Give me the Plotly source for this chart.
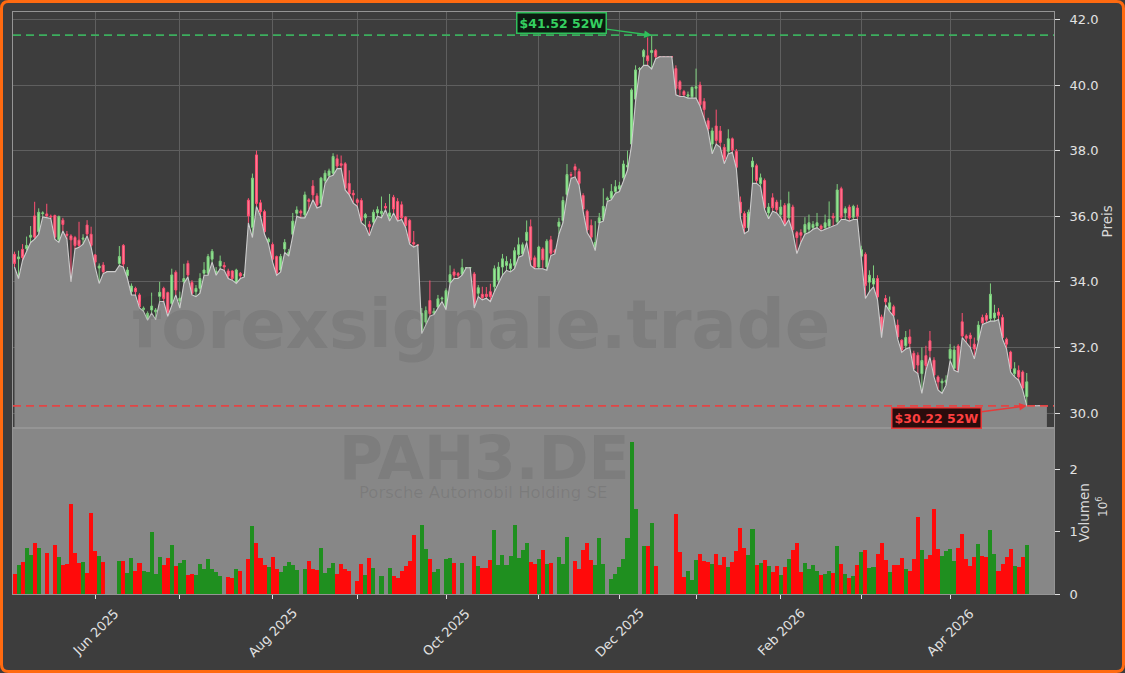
import pandas as pd
import plotly.graph_objects as go

# ---------------- data ----------------
ticker = "PAH3.DE"
company = "Porsche Automobil Holding SE"
watermark = "forexsignale.trade"
first_day = "2025-05-05"
last_trading_day = "2026-04-30"
xetra_holidays = ["2025-05-01", "2025-12-24", "2025-12-25", "2025-12-26", "2025-12-31",
                  "2026-01-01", "2026-04-03", "2026-04-06", "2026-05-01"]

opens = [
    34.84, 34.70, 34.99, 35.01, 35.36, 36.01, 35.53, 36.08, 36.07, 36.00,
    36.02, 35.28, 35.88, 35.45, 35.40, 35.35, 35.27, 35.30, 35.73, 35.45,
    34.82, 34.42, 34.51, 34.31, 34.31, 34.31, 34.56, 35.11, 34.19, 33.70,
    33.80, 33.60, 33.15, 32.85, 33.14, 33.08, 33.55, 33.80, 33.67, 33.34,
    34.29, 33.42, 34.00, 34.56, 33.98, 33.70, 33.80, 34.26, 34.26, 34.69,
    34.25, 34.48, 34.50, 34.33, 34.33, 33.97, 34.26, 34.20, 36.49, 35.66,
    37.87, 36.41, 36.14, 35.22, 35.14, 34.77, 34.36, 35.00, 34.82, 35.45,
    36.09, 36.15, 36.04, 36.50, 36.92, 36.62, 36.39, 37.08, 37.23, 37.31,
    37.75, 37.60, 37.60, 37.00, 36.70, 36.50, 36.48, 35.95, 35.75, 35.82,
    36.10, 36.08, 36.30, 35.98, 36.58, 36.45, 36.35, 35.97, 35.87, 35.20,
    35.12, 32.52, 32.77, 33.43, 33.04, 33.23, 33.48, 33.20, 33.99, 34.30,
    34.25, 34.23, 34.43, 34.43, 34.24, 33.65, 33.62, 33.62, 33.70, 33.85,
    34.05, 34.45, 34.50, 34.40, 34.50, 34.83, 34.85, 35.26, 35.68, 34.73,
    34.45, 35.00, 34.45, 35.28, 34.95, 35.69, 35.87, 36.66, 37.27, 37.51,
    37.36, 36.63, 36.15, 35.72, 35.00, 35.80, 35.90, 36.50, 36.55, 36.75,
    36.83, 37.17, 37.50, 38.20, 39.57, 40.48, 40.86, 40.89, 40.99, 41.05,
    40.86, 40.86, 40.86, 40.86, 40.50, 40.10, 39.80, 39.66, 39.64, 39.90,
    40.00, 39.50, 38.91, 38.20, 38.75, 38.60, 38.10, 37.98, 38.36, 37.98,
    36.43, 36.08, 35.65, 37.50, 37.54, 36.99, 37.09, 36.10, 36.56, 36.43,
    36.05, 36.33, 35.95, 36.28, 35.50, 35.50, 35.50, 35.60, 35.65, 35.70,
    35.70, 35.65, 35.70, 36.00, 35.83, 36.84, 36.10, 36.28, 35.97, 36.25,
    34.78, 34.84, 33.99, 33.93, 34.10, 32.93, 33.49, 33.15, 33.24, 32.68,
    32.22, 32.05, 32.32, 31.82, 31.76, 31.20, 31.75, 32.20, 31.61, 31.10,
    30.92, 30.94, 31.66, 31.36, 32.04, 32.78, 32.35, 32.37, 32.10, 32.22,
    32.91, 32.98, 32.88, 32.90, 33.08, 32.91, 32.25, 31.86, 31.20, 31.30,
    31.25, 30.50, 30.22, 30.22, 30.22, 30.22, 30.22,
]
highs = [
    34.92, 34.95, 35.15, 35.38, 35.70, 36.44, 36.24, 36.15, 36.38, 36.05,
    36.05, 36.02, 35.95, 35.55, 35.45, 35.40, 35.83, 35.45, 35.88, 35.68,
    34.85, 34.56, 34.60, 34.31, 34.31, 34.31, 35.09, 35.15, 34.45, 33.95,
    33.85, 33.65, 33.25, 33.10, 33.67, 33.20, 34.00, 33.85, 33.70, 34.40,
    34.35, 33.70, 34.55, 34.65, 34.05, 33.90, 34.26, 34.60, 34.85, 35.00,
    34.45, 34.80, 34.60, 34.40, 34.35, 34.40, 34.30, 34.28, 36.55, 37.30,
    38.00, 36.50, 36.20, 35.35, 35.20, 34.80, 34.85, 35.30, 35.00, 36.10,
    36.30, 36.20, 36.75, 36.55, 37.10, 36.70, 37.20, 37.40, 37.45, 37.92,
    37.88, 37.85, 37.65, 37.40, 36.80, 36.55, 36.55, 36.10, 35.85, 36.20,
    36.30, 36.60, 36.40, 36.68, 36.65, 36.55, 36.45, 36.00, 35.92, 35.55,
    35.12, 33.20, 33.25, 34.04, 33.20, 33.60, 33.55, 33.80, 34.50, 34.40,
    34.30, 34.70, 34.43, 34.43, 34.30, 33.90, 33.85, 33.84, 33.94, 34.50,
    34.60, 34.85, 34.78, 34.70, 35.05, 35.35, 35.20, 35.87, 35.90, 34.80,
    35.10, 35.05, 35.30, 35.40, 35.00, 35.95, 36.60, 37.59, 37.35, 37.60,
    37.45, 36.70, 36.20, 35.90, 35.85, 36.10, 36.85, 36.60, 36.98, 37.10,
    37.05, 37.70, 38.00, 39.90, 40.60, 40.55, 41.10, 41.45, 41.52, 41.10,
    40.86, 40.86, 40.86, 40.86, 40.60, 40.15, 39.85, 39.80, 39.95, 40.50,
    40.10, 39.60, 39.00, 38.70, 39.25, 38.75, 38.20, 38.65, 38.40, 38.05,
    36.60, 36.15, 36.20, 37.80, 37.60, 37.30, 37.15, 36.40, 36.70, 36.50,
    36.50, 36.40, 36.75, 36.35, 35.55, 35.60, 35.97, 36.05, 35.85, 36.10,
    35.75, 36.05, 36.45, 36.10, 36.98, 36.90, 36.30, 36.35, 36.35, 36.35,
    35.10, 34.90, 34.35, 34.50, 34.20, 33.00, 33.60, 33.55, 33.30, 32.85,
    32.25, 32.50, 32.55, 31.90, 31.85, 32.00, 32.05, 32.50, 31.70, 31.15,
    31.05, 31.15, 32.10, 32.05, 32.10, 33.05, 32.40, 32.45, 32.30, 32.80,
    33.00, 33.05, 33.95, 33.30, 33.20, 33.00, 32.30, 31.90, 31.55, 31.45,
    31.30, 31.22, 30.22, 30.22, 30.22, 30.22, 30.22,
]
lows = [
    34.45, 34.10, 34.65, 34.95, 35.20, 35.30, 35.45, 35.98, 35.95, 35.93,
    35.30, 35.20, 35.55, 35.30, 34.00, 35.00, 35.05, 35.15, 35.40, 35.05,
    34.45, 33.95, 34.25, 34.31, 34.31, 34.31, 34.50, 34.45, 34.10, 33.60,
    33.60, 33.20, 33.10, 32.83, 33.05, 32.85, 33.40, 33.40, 32.95, 33.30,
    33.60, 33.20, 33.95, 34.15, 33.60, 33.55, 33.65, 34.20, 34.20, 34.60,
    34.20, 34.40, 34.35, 34.10, 34.05, 33.95, 34.10, 34.15, 35.80, 35.35,
    36.30, 36.00, 35.45, 35.15, 34.60, 34.20, 34.30, 34.90, 34.78, 35.40,
    36.00, 35.95, 35.95, 36.20, 36.50, 36.25, 36.30, 37.00, 37.20, 37.25,
    37.45, 37.45, 36.80, 36.65, 36.40, 36.30, 35.80, 35.70, 35.40, 35.75,
    36.00, 35.95, 36.20, 35.85, 36.10, 35.85, 35.90, 35.65, 35.15, 35.06,
    35.12, 32.42, 32.70, 32.95, 33.00, 33.20, 33.40, 33.15, 33.95, 34.10,
    34.10, 34.20, 34.43, 34.43, 33.20, 33.55, 33.45, 33.50, 33.40, 33.70,
    33.95, 34.20, 34.35, 34.30, 34.40, 34.75, 34.80, 35.20, 34.50, 34.40,
    34.40, 34.40, 34.35, 34.80, 34.85, 35.45, 35.80, 36.60, 37.15, 37.20,
    36.95, 36.15, 35.50, 35.30, 34.95, 35.80, 35.85, 36.45, 36.50, 36.70,
    36.75, 37.10, 37.40, 38.15, 39.50, 40.45, 40.60, 40.60, 40.49, 40.80,
    40.86, 40.86, 40.86, 40.86, 39.70, 39.65, 39.65, 39.60, 39.60, 39.60,
    39.35, 38.95, 38.60, 37.90, 38.20, 38.10, 37.60, 37.90, 37.95, 37.45,
    35.95, 35.47, 35.55, 37.00, 37.00, 36.90, 36.20, 35.92, 36.15, 36.10,
    35.95, 35.70, 35.90, 35.50, 34.86, 35.20, 35.45, 35.50, 35.60, 35.65,
    35.55, 35.60, 35.65, 35.70, 35.75, 35.90, 35.90, 35.85, 35.90, 35.90,
    34.70, 33.49, 33.70, 33.85, 33.45, 32.30, 33.30, 33.10, 32.95, 32.25,
    31.85, 31.95, 32.00, 31.30, 31.20, 30.60, 31.30, 31.70, 31.10, 30.70,
    30.60, 30.85, 31.60, 31.30, 31.25, 32.30, 32.15, 32.00, 31.65, 32.15,
    32.70, 32.75, 32.80, 32.80, 32.85, 32.25, 31.95, 31.25, 31.10, 31.00,
    30.70, 30.22, 30.22, 30.22, 30.22, 30.22, 30.22,
]
closes = [
    34.56, 34.76, 34.74, 35.11, 35.42, 35.36, 36.12, 36.10, 36.01, 35.98,
    35.36, 35.99, 35.75, 35.42, 35.28, 35.11, 35.11, 35.33, 35.46, 35.11,
    34.60, 34.48, 34.31, 34.31, 34.31, 34.31, 34.77, 34.54, 34.36, 33.87,
    33.70, 33.24, 33.20, 33.04, 33.26, 33.14, 33.68, 33.49, 33.07, 34.21,
    33.75, 33.50, 34.10, 34.21, 33.65, 33.80, 34.10, 34.36, 34.77, 34.93,
    34.32, 34.63, 34.45, 34.18, 34.10, 34.36, 34.18, 34.22, 36.01, 37.16,
    36.39, 36.14, 35.53, 35.30, 34.69, 34.26, 34.77, 35.20, 34.90, 35.85,
    36.19, 36.10, 36.65, 36.45, 36.65, 36.34, 37.16, 37.31, 37.38, 37.82,
    37.53, 37.55, 36.85, 36.68, 36.65, 36.42, 35.87, 36.05, 35.68, 36.12,
    36.20, 36.15, 36.25, 36.10, 36.22, 35.90, 35.95, 35.72, 35.20, 35.15,
    35.12, 33.04, 33.12, 33.03, 33.10, 33.48, 33.50, 33.73, 34.22, 34.20,
    34.20, 34.43, 34.43, 34.43, 33.23, 33.82, 33.52, 33.55, 33.55, 34.40,
    34.45, 34.70, 34.62, 34.55, 34.95, 35.13, 35.13, 35.51, 34.67, 34.45,
    35.06, 34.67, 35.24, 34.87, 34.90, 35.82, 36.48, 37.27, 37.25, 37.41,
    37.00, 36.22, 35.58, 35.36, 35.20, 35.95, 36.30, 36.55, 36.75, 36.90,
    36.93, 37.59, 37.55, 39.85, 40.46, 40.50, 41.05, 40.74, 41.05, 40.86,
    40.86, 40.86, 40.86, 40.86, 39.90, 39.87, 39.70, 39.70, 39.93, 39.95,
    39.40, 39.25, 38.66, 38.60, 38.31, 38.25, 37.75, 38.36, 38.02, 37.49,
    36.10, 35.65, 36.12, 37.68, 37.09, 37.17, 36.26, 36.28, 36.26, 36.20,
    36.28, 35.77, 36.38, 35.59, 35.35, 35.42, 35.75, 35.80, 35.75, 35.80,
    35.62, 35.80, 35.90, 35.95, 36.80, 35.97, 36.23, 35.95, 36.30, 36.00,
    34.98, 33.89, 34.20, 34.10, 33.54, 32.37, 33.39, 33.36, 32.98, 32.32,
    31.92, 32.30, 32.12, 31.36, 31.46, 31.60, 31.45, 31.90, 31.16, 30.95,
    30.97, 31.00, 31.94, 31.92, 31.31, 32.35, 32.28, 32.27, 31.95, 32.68,
    32.75, 32.83, 33.62, 33.05, 32.98, 32.30, 32.10, 31.36, 31.35, 31.10,
    30.76, 30.95, 30.22, 30.22, 30.22, 30.22, 30.22,
]
volumes_mio = [
    0.32, 0.47, 0.51, 0.74, 0.63, 0.82, 0.74, 0, 0.66, 0,
    0.79, 0.59, 0.47, 0.48, 1.44, 0.66, 0.50, 0.51, 0.34, 1.30,
    0.69, 0.61, 0.51, 0, 0, 0, 0.53, 0.53, 0.34, 0.58,
    0.37, 0.50, 0.37, 0.36, 0.99, 0.32, 0.59, 0.47, 0.58, 0.79,
    0.45, 0.50, 0.55, 0.30, 0.32, 0.30, 0.48, 0.40, 0.56, 0.40,
    0.35, 0.29, 0, 0.27, 0.26, 0.40, 0.37, 0, 0.56, 1.09,
    0.82, 0.58, 0.47, 0.43, 0.59, 0.40, 0.35, 0.45, 0.51, 0.47,
    0.39, 0, 0.40, 0.53, 0.40, 0.39, 0.74, 0.34, 0.42, 0.50,
    0.32, 0.48, 0.40, 0.37, 0, 0.21, 0.48, 0.30, 0.58, 0.42,
    0, 0.29, 0, 0.42, 0.29, 0.26, 0.37, 0.45, 0.53, 0.95,
    0, 1.11, 0.72, 0.56, 0.35, 0.40, 0, 0.56, 0.58, 0.50,
    0, 0.50, 0, 0, 0.61, 0.45, 0.42, 0.42, 0.55, 1.03,
    0.47, 0.63, 0.47, 0.61, 1.11, 0.58, 0.71, 0.82, 0.51, 0.48,
    0.56, 0.71, 0.48, 0.50, 0, 0.59, 0.48, 0.92, 0, 0.53,
    0.40, 0.71, 0.82, 0.55, 0.47, 0.90, 0.48, 0, 0.24, 0.32,
    0.43, 0.56, 0.90, 2.43, 1.36, 0, 0.77, 0.77, 1.14, 0.45,
    0, 0, 0, 0, 1.28, 0.67, 0.27, 0.37, 0.22, 0.55,
    0.64, 0.53, 0.51, 0.48, 0.64, 0.47, 0.59, 0.43, 0.51, 0.69,
    1.06, 0.74, 0.63, 1.04, 0.47, 0.50, 0.55, 0.45, 0.35, 0.45,
    0.30, 0.44, 0.56, 0.71, 0.82, 0.35, 0.50, 0.40, 0.47, 0.37,
    0.30, 0.32, 0.37, 0.34, 0.77, 0.48, 0.32, 0.26, 0.29, 0.47,
    0.67, 0.71, 0.42, 0.43, 0.64, 0.82, 0.55, 0.35, 0.47, 0.47,
    0.58, 0.40, 0.37, 0.56, 1.23, 0.70, 0.56, 0.62, 1.36, 0.72,
    0.61, 0.69, 0.72, 0.53, 0.74, 0.96, 0.56, 0.45, 0.59, 0.80,
    0.61, 0.59, 1.03, 0.64, 0.37, 0.48, 0.59, 0.72, 0.45, 0.43,
    0.59, 0.78, 0, 0, 0, 0, 0,
]

# ---------------- derived helpers ----------------
n = len(closes)
idx = list(range(n))
cbd = pd.offsets.CustomBusinessDay(holidays=pd.to_datetime(xetra_holidays))
dates = pd.date_range(first_day, periods=n, freq=cbd)
last_day = pd.Timestamp(last_trading_day)
tick_idx = [i for i in range(1, n) if dates[i].month != dates[i - 1].month and dates[i] <= last_day]
label_idx = [i for i in tick_idx if dates[i].month % 2 == 0]
label_txt = [dates[i].strftime("%b %Y") for i in label_idx]

hi_i = max(range(n), key=lambda i: highs[i])
lo_i = min(range(n), key=lambda i: lows[i])
hi_v, lo_v = highs[hi_i], lows[lo_i]

vol_colors = ["#1f8f1f" if c >= o else "#ff0a0a" for o, c in zip(opens, closes)]

# ---------------- styling constants ----------------
W, H = 1125, 673
ML, MR, MT, MB = 13, 71, 12, 79
PW, PH = W - ML - MR, H - MT - MB
split = 166 / PH  # volume panel share
BG = "#3d3d3d"
FILL = "#878787"
GRID = "#5f5f5f"
SPINE = "#959595"
TXT = "#e2e2e2"
FONT = "DejaVu Sans"


def px_x(p):
    return (p - ML) / PW


def px_y(p):
    return (H - MB - p) / PH


fig = go.Figure()

# low-line area fill
fig.add_trace(go.Scatter(
    x=idx, y=lows, mode="lines", line=dict(color="#cdcdcd", width=1.1),
    fill="tozeroy", fillcolor=FILL, xaxis="x", yaxis="y", hoverinfo="skip"))

# candles
fig.add_trace(go.Candlestick(
    x=idx, open=opens, high=highs, low=lows, close=closes, xaxis="x", yaxis="y",
    increasing=dict(line=dict(color="#7fcf7f", width=1), fillcolor="#98ee98"),
    decreasing=dict(line=dict(color="#ff4f72", width=1), fillcolor="#ff7d96"),
    whiskerwidth=0, hoverinfo="skip"))

# volume bars
fig.add_trace(go.Bar(
    x=idx, y=volumes_mio, marker=dict(color=vol_colors, line=dict(width=0)),
    width=1.0, xaxis="x2", yaxis="y2", hoverinfo="skip"))

xr = [-0.37, 257.76]
fig.update_layout(
    width=W, height=H, template="none",
    paper_bgcolor=BG, plot_bgcolor=BG,
    margin=dict(l=ML, r=MR, t=MT, b=MB, autoexpand=False),
    showlegend=False, hovermode=False, bargap=0,
    font=dict(family=FONT, color=TXT, size=13),
    xaxis=dict(domain=[0, 1], anchor="y", range=xr, rangeslider=dict(visible=False),
               tickvals=tick_idx, showticklabels=False, ticks="",
               showgrid=True, gridcolor=GRID, gridwidth=1, zeroline=False,
               showline=True, linecolor=SPINE, linewidth=1, mirror=True, automargin=False),
    xaxis2=dict(domain=[0, 1], anchor="y2", range=xr, matches="x",
                tickvals=tick_idx, showticklabels=False,
                ticks="outside", ticklen=4, tickcolor="#e0e0e0", tickwidth=1,
                showgrid=False, zeroline=False,
                showline=True, linecolor=SPINE, linewidth=1, mirror=True, automargin=False),
    yaxis=dict(domain=[split, 1], anchor="x", side="right", range=[29.543, 42.226],
               tickvals=[30, 32, 34, 36, 38, 40, 42], tickformat=".1f",
               ticks="outside", ticklen=5, tickcolor="#e0e0e0", ticklabelstandoff=7,
               tickfont=dict(size=13, color=TXT, family=FONT),
               showgrid=True, gridcolor=GRID, gridwidth=1, zeroline=False,
               showline=True, linecolor=SPINE, linewidth=1, mirror=True, automargin=False),
    yaxis2=dict(domain=[0, split], anchor="x2", side="right", range=[0, 2.656],
                tickvals=[0, 1, 2], ticktext=["0", "1", "2"],
                ticks="outside", ticklen=5, tickcolor="#e0e0e0", ticklabelstandoff=7,
                tickfont=dict(size=13, color=TXT, family=FONT),
                showgrid=False, zeroline=False,
                showline=True, linecolor=SPINE, linewidth=1, mirror=True, automargin=False),
)

shapes = [
    # gray volume panel background
    dict(type="rect", xref="x2 domain", yref="y2 domain", x0=0, x1=1, y0=0, y1=1,
         fillcolor=FILL, line=dict(width=0), layer="below"),
    # 52W high / low dashed lines
    dict(type="line", xref="x domain", yref="y", x0=0, x1=1, y0=hi_v, y1=hi_v,
         line=dict(color="#3cae5e", width=1.8, dash="8px,5px")),
    dict(type="line", xref="x domain", yref="y", x0=0, x1=1, y0=lo_v, y1=lo_v,
         line=dict(color="#e24545", width=1.8, dash="8px,5px")),
]
# orange rounded frame around the whole figure
r = 7
l_, t_, R_, B_ = 1.5, 1.5, W - 1.5, H - 1.5
path = (f"M {px_x(l_ + r)},{px_y(t_)} L {px_x(R_ - r)},{px_y(t_)} "
        f"Q {px_x(R_)},{px_y(t_)} {px_x(R_)},{px_y(t_ + r)} "
        f"L {px_x(R_)},{px_y(B_ - r)} Q {px_x(R_)},{px_y(B_)} {px_x(R_ - r)},{px_y(B_)} "
        f"L {px_x(l_ + r)},{px_y(B_)} Q {px_x(l_)},{px_y(B_)} {px_x(l_)},{px_y(B_ - r)} "
        f"L {px_x(l_)},{px_y(t_ + r)} Q {px_x(l_)},{px_y(t_)} {px_x(l_ + r)},{px_y(t_)} Z")
shapes.append(dict(type="path", xref="paper", yref="paper", path=path,
                   line=dict(color="#ff6a10", width=3), fillcolor="rgba(0,0,0,0)", layer="above"))
fig.update_layout(shapes=shapes)

wm_color = "rgba(40,40,40,0.10)"
center = dict(xanchor="center", yanchor="middle", showarrow=False)
annotations = [
    dict(text=f"<b>{watermark}</b>", xref="paper", yref="paper", x=px_x(481), y=px_y(325),
         font=dict(size=67, color=wm_color, family=FONT), **center),
    dict(text=f"<b>{ticker}</b>", xref="paper", yref="paper", x=px_x(484), y=px_y(458),
         font=dict(size=60, color=wm_color, family=FONT), **center),
    dict(text=company, xref="paper", yref="paper", x=px_x(483), y=px_y(493),
         font=dict(size=16.5, color="rgba(40,40,40,0.12)", family=FONT), **center),
    dict(text="Preis", xref="paper", yref="paper", x=px_x(1106.5), y=px_y(222),
         textangle=-90, font=dict(size=13.5, color="#d8d8d8", family=FONT), **center),
    dict(text="Volumen", xref="paper", yref="paper", x=px_x(1084), y=px_y(513),
         textangle=-90, font=dict(size=13.5, color="#d8d8d8", family=FONT), **center),
    dict(text="10<sup>6</sup>", xref="paper", yref="paper", x=px_x(1102), y=px_y(507),
         textangle=-90, font=dict(size=12, color="#d8d8d8", family=FONT), **center),
    dict(text=f"<b>${hi_v:.2f} 52W</b>", x=hi_i, y=hi_v, xref="x", yref="y",
         showarrow=True, arrowhead=2, arrowsize=1, arrowwidth=1.5, arrowcolor="#2fbf5a",
         ax=-90, ay=-12, bgcolor="#0c1a10", bordercolor="#2fbf5a", borderwidth=1.5, borderpad=2,
         font=dict(size=12.5, color="#35d060", family=FONT)),
    dict(text=f"<b>${lo_v:.2f} 52W</b>", x=lo_i, y=lo_v, xref="x", yref="y",
         showarrow=True, arrowhead=2, arrowsize=1, arrowwidth=1.5, arrowcolor="#e83a3a",
         ax=-90, ay=12, bgcolor="#2a0c0c", bordercolor="#e83a3a", borderwidth=1.5, borderpad=2,
         font=dict(size=12.5, color="#ff4040", family=FONT)),
]
# rotated month labels, centred under their tick (matplotlib style)
for i, txt in zip(label_idx, label_txt):
    annotations.append(dict(text=txt, x=i, xref="x2", y=px_y(632), yref="paper",
                            textangle=-45, font=dict(size=13, color=TXT, family=FONT), **center))
fig.update_layout(annotations=annotations)

fig.write_html(
    "out.html",
    config={"displayModeBar": False, "staticPlot": True},
    post_script="document.body.style.margin='0';document.body.style.padding='0';"
                "document.body.style.overflow='hidden';",
)
